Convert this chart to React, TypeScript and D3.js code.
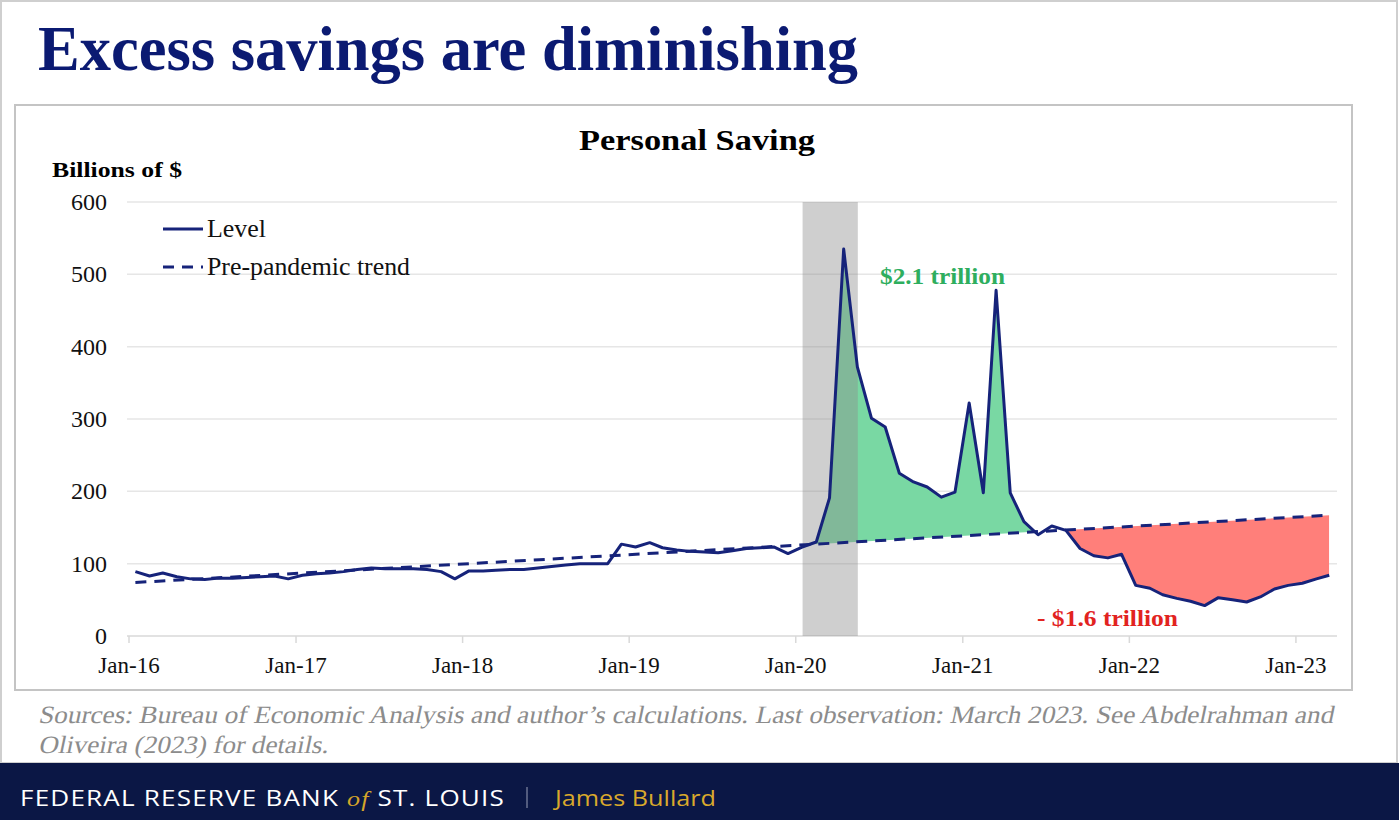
import React from "react";
import * as d3 from "d3";

const startYear = 2016;
const levelValues: number[] = [
  // 2016
  89, 83, 87, 82, 79, 78, 80, 80, 81, 82, 83, 79,
  // 2017
  84, 86, 87, 89, 92, 94, 93, 93, 93, 92, 89, 79,
  // 2018
  90, 90, 91, 92, 92, 94, 96, 98, 100, 100, 100, 127,
  // 2019
  123, 129, 122, 119, 117, 116, 115, 118, 121, 122, 123, 114,
  // 2020
  123, 130, 191, 535, 372, 301, 289, 225, 213, 206, 192, 199,
  // 2021
  322, 198, 478, 198, 158, 140, 152, 146, 121, 111, 108, 113,
  // 2022
  70, 66, 57, 52, 48, 42, 53, 50, 47, 54, 65, 70,
  // 2023
  73, 79, 84,
];
const trendEndpoints: number[] = [74, 167];
const surplusRange: number[] = [49, 65]; // Feb-20 .. Jun-21 (indices)
const deficitRange: number[] = [67, 86]; // Aug-21 .. Mar-23
const recession: string[] = ["2020-01-16", "2020-05-16"];
const yTicks: number[] = [0, 100, 200, 300, 400, 500, 600];
const xTickYears: number[] = [2016, 2017, 2018, 2019, 2020, 2021, 2022, 2023];
const xTickLabels: string[] = ["Jan-16", "Jan-17", "Jan-18", "Jan-19", "Jan-20", "Jan-21", "Jan-22", "Jan-23"];

const dates = levelValues.map((_, i) => new Date(startYear, i, 15));
const data = levelValues.map((v, i) => ({ date: dates[i], value: v }));

const NAVY = "#16237a";
const SERIF = "'Liberation Serif', 'Times New Roman', serif";
const SANS = "'Open Sans', 'Noto Sans', sans-serif";

export default function App() {
  const x = d3
    .scaleTime()
    .domain([new Date(2016, 0, 1), new Date(2023, 3, 1)])
    .range([129, 1337]);
  const y = d3.scaleLinear().domain([0, 600]).range([636, 202]);

  const line = d3
    .line<{ date: Date; value: number }>()
    .x((d) => x(d.date))
    .y((d) => y(d.value));

  const greenArea = d3
    .area<{ date: Date; value: number }>()
    .x((d) => x(d.date))
    .y0(y(0))
    .y1((d) => y(d.value));
  const redArea = d3
    .area<{ date: Date; value: number }>()
    .x((d) => x(d.date))
    .y0((d) => y(d.value))
    .y1(y(600));

  const tx0 = x(dates[0]);
  const tx1 = x(dates[dates.length - 1]);
  const ty0 = y(trendEndpoints[0]);
  const ty1 = y(trendEndpoints[1]);
  const aboveClip = `M${tx0},${ty0}L${tx1},${ty1}L${tx1},${y(600)}L${tx0},${y(600)}Z`;
  const belowClip = `M${tx0},${ty0}L${tx1},${ty1}L${tx1},${y(0)}L${tx0},${y(0)}Z`;

  const surplusData = data.slice(surplusRange[0], surplusRange[1] + 1);
  const deficitData = data.slice(deficitRange[0], deficitRange[1] + 1);

  const rx0 = x(new Date(recession[0]));
  const rx1 = x(new Date(recession[1]));

  return (
    <svg
      width={1399}
      height={820}
      style={{ position: "absolute", left: 0, top: 0, background: "#fff" }}
    >
      <defs>
        <clipPath id="above">
          <path d={aboveClip} />
        </clipPath>
        <clipPath id="below">
          <path d={belowClip} />
        </clipPath>
      </defs>
      <rect x={0} y={0} width={1399} height={820} fill="#fff" />
      <rect x={1} y={1} width={1396} height={762} fill="none" stroke="#cfcfcf" strokeWidth={2} />

      {/* Title */}
      <text
        x={38}
        y={70}
        fontFamily={SERIF}
        fontWeight="bold"
        fontSize={64}
        fill="#0b1a72"
        textLength={820}
        lengthAdjust="spacingAndGlyphs"
      >
        Excess savings are diminishing
      </text>

      {/* Chart box */}
      <rect x={15} y={105} width={1337} height={585} fill="#fff" stroke="#c4c4c4" strokeWidth={2} />

      <text
        x={697}
        y={150}
        textAnchor="middle"
        fontFamily={SERIF}
        fontWeight="bold"
        fontSize={29}
        fill="#000"
        textLength={236}
        lengthAdjust="spacingAndGlyphs"
      >
        Personal Saving
      </text>
      <text
        x={52}
        y={177}
        fontFamily={SERIF}
        fontWeight="bold"
        fontSize={21}
        fill="#000"
        textLength={130}
        lengthAdjust="spacingAndGlyphs"
      >
        Billions of $
      </text>

      {/* gridlines */}
      {yTicks.map((t) => (
        <g key={t}>
          <line
            x1={127}
            x2={1337}
            y1={y(t)}
            y2={y(t)}
            stroke={t === 0 ? "#d9d9d9" : "#e6e6e6"}
            strokeWidth={1.5}
          />
          <text
            x={107}
            y={y(t) + 8}
            textAnchor="end"
            fontFamily={SERIF}
            fontSize={24}
            fill="#111"
          >
            {t}
          </text>
        </g>
      ))}

      {/* x ticks */}
      {xTickYears.map((yr, i) => {
        const xx = x(new Date(yr, 0, 1));
        return (
          <g key={yr}>
            <line x1={xx} x2={xx} y1={636} y2={643} stroke="#d9d9d9" strokeWidth={1.5} />
            <text
              x={xx}
              y={673}
              textAnchor="middle"
              fontFamily={SERIF}
              fontSize={23}
              fill="#111"
            >
              {xTickLabels[i]}
            </text>
          </g>
        );
      })}

      {/* fills */}
      <path d={greenArea(surplusData) || ""} fill="#79d8a3" clipPath="url(#above)" />
      <path d={redArea(deficitData) || ""} fill="#ff7f7a" clipPath="url(#below)" />

      {/* recession shading */}
      <rect x={rx0} y={y(600)} width={rx1 - rx0} height={y(0) - y(600)} fill="#8c8c8c" opacity={0.42} />

      {/* trend */}
      <line
        x1={tx0}
        y1={ty0}
        x2={tx1}
        y2={ty1}
        stroke={NAVY}
        strokeWidth={3}
        strokeDasharray="11,8"
      />
      {/* level */}
      <path d={line(data) || ""} fill="none" stroke={NAVY} strokeWidth={3} strokeLinejoin="round" />

      {/* legend */}
      <line x1={163} x2={203} y1={229} y2={229} stroke={NAVY} strokeWidth={3} />
      <text x={207} y={237} fontFamily={SERIF} fontSize={25} fill="#111" textLength={59} lengthAdjust="spacingAndGlyphs">
        Level
      </text>
      <line x1={163} x2={203} y1={267} y2={267} stroke={NAVY} strokeWidth={3} strokeDasharray="11,8" />
      <text x={207} y={275} fontFamily={SERIF} fontSize={25} fill="#111" textLength={203} lengthAdjust="spacingAndGlyphs">
        Pre-pandemic trend
      </text>

      {/* annotations */}
      <text
        x={880}
        y={284}
        fontFamily={SERIF}
        fontWeight="bold"
        fontSize={23}
        fill="#2eae5e"
        textLength={125}
        lengthAdjust="spacingAndGlyphs"
      >
        $2.1 trillion
      </text>
      <text
        x={1037}
        y={626}
        fontFamily={SERIF}
        fontWeight="bold"
        fontSize={24}
        fill="#e2231f"
        textLength={141}
        lengthAdjust="spacingAndGlyphs"
      >
        - $1.6 trillion
      </text>

      {/* sources (synthetic oblique serif) */}
      <g transform="translate(38,723) skewX(-12)">
        <text
          x={0}
          y={0}
          fontFamily={SERIF}
          fontSize={25}
          fill="#8c8c8c"
          textLength={1295}
          lengthAdjust="spacingAndGlyphs"
        >
          Sources: Bureau of Economic Analysis and author’s calculations. Last observation: March 2023. See Abdelrahman and
        </text>
      </g>
      <g transform="translate(38,753) skewX(-12)">
        <text
          x={0}
          y={0}
          fontFamily={SERIF}
          fontSize={25}
          fill="#8c8c8c"
          textLength={290}
          lengthAdjust="spacingAndGlyphs"
        >
          Oliveira (2023) for details.
        </text>
      </g>

      {/* footer */}
      <rect x={0} y={763} width={1399} height={57} fill="#0b1745" />
      <text
        x={20}
        y={806}
        fontFamily={SANS}
        fontSize={22}
        fill="#ffffff"
        letterSpacing={1}
        textLength={485}
        lengthAdjust="spacingAndGlyphs"
      >
        FEDERAL RESERVE BANK{" "}
        <tspan fill="#d4a52a" fontStyle="italic" fontFamily={SERIF}>
          of
        </tspan>
        {" "}ST. LOUIS
      </text>
      <line x1={527} x2={527} y1={787} y2={808} stroke="#9aa0b8" strokeWidth={1} />
      <text
        x={555}
        y={806}
        fontFamily={SANS}
        fontSize={22}
        fill="#d9a92c"
        textLength={161}
        lengthAdjust="spacingAndGlyphs"
      >
        James Bullard
      </text>
    </svg>
  );
}
